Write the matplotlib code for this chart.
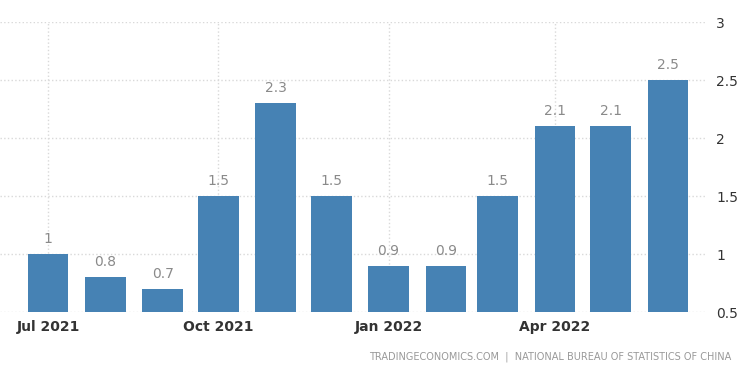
import datetime as dt
import matplotlib.pyplot as plt
import matplotlib.dates as mdates

# monthly values, Jul 2021 - Jun 2022
months = [dt.date(2021, m, 1) for m in range(7, 13)] + [dt.date(2022, m, 1) for m in range(1, 7)]
values = [1, 0.8, 0.7, 1.5, 2.3, 1.5, 0.9, 0.9, 1.5, 2.1, 2.1, 2.5]
tick_dates = [dt.date(2021, 7, 1), dt.date(2021, 10, 1), dt.date(2022, 1, 1), dt.date(2022, 4, 1)]
tick_labels = ["Jul 2021", "Oct 2021", "Jan 2022", "Apr 2022"]
y_ticks = [0.5, 1, 1.5, 2, 2.5, 3]

fig = plt.figure(figsize=(7.5, 3.75), dpi=100)
ax = fig.add_axes([0.0, 0.168, 0.94, 0.773])

ax.bar(months, values, width=22, color="#4682b4", zorder=2)
for d, v in zip(months, values):
    ax.text(d, v + 0.07, f"{v:g}", ha="center", va="bottom", fontsize=10, color="#8a8a8a")

ax.set_xlim(dt.date(2021, 6, 5), dt.date(2022, 6, 21))
ax.set_ylim(0.5, 3)
ax.set_xticks(tick_dates)
ax.set_xticklabels(tick_labels)
ax.set_yticks(y_ticks)
ax.set_yticklabels([f"{y:g}" for y in y_ticks])
ax.yaxis.tick_right()
ax.tick_params(axis="both", length=0, labelsize=10, colors="#333333")
ax.tick_params(axis="y", pad=8)
ax.tick_params(axis="x", pad=6)
for lab in ax.get_xticklabels():
    lab.set_fontweight("bold")

ax.grid(True, color="#d9d9d9", linestyle=":", linewidth=1, zorder=0)
for s in ax.spines.values():
    s.set_visible(False)

fig.text(0.975, 0.035, "TRADINGECONOMICS.COM  |  NATIONAL BUREAU OF STATISTICS OF CHINA",
         ha="right", va="bottom", fontsize=7, color="#999999")

fig.savefig("out.png", dpi=100)
